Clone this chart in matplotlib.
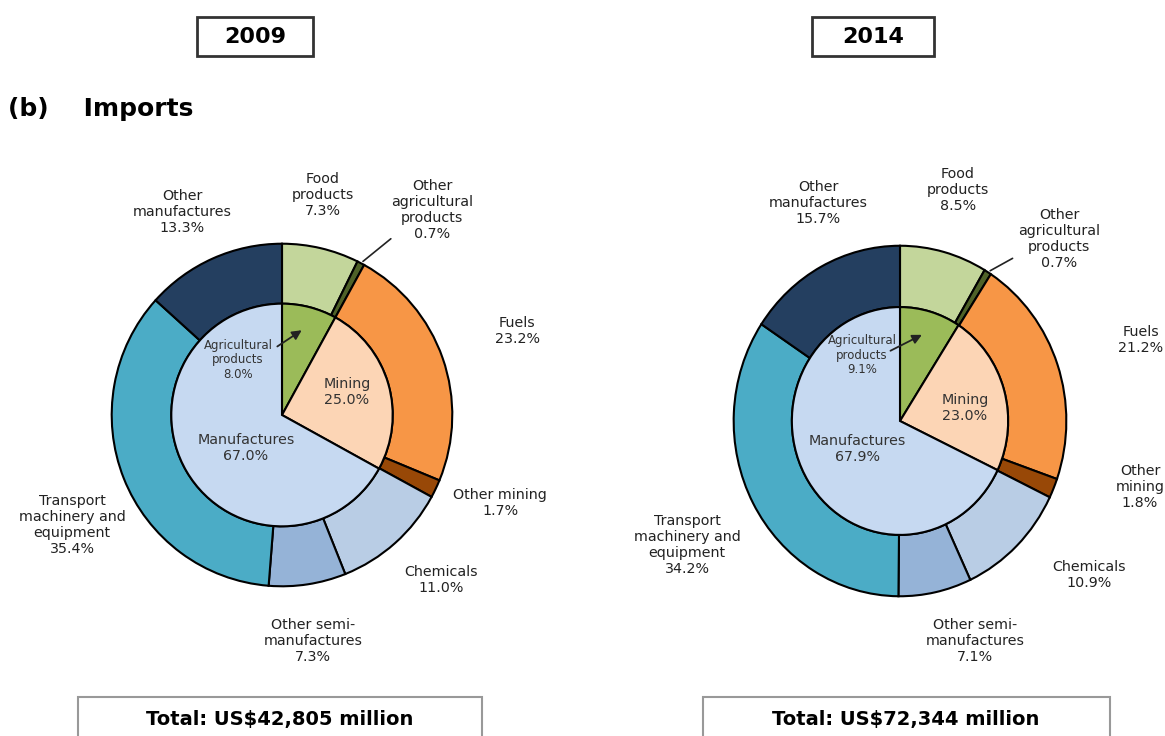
import matplotlib.pyplot as plt
from matplotlib.patches import Rectangle
import numpy as np

# data
years = ['2009', '2014']
totals = ['Total: US$42,805 million', 'Total: US$72,344 million']

inner_names = ['Agricultural\nproducts', 'Mining', 'Manufactures']
inner_2009 = [8.0, 25.0, 67.0]
inner_2014 = [9.1, 23.0, 67.9]

outer_names_2009 = ['Food\nproducts', 'Other\nagricultural\nproducts', 'Fuels', 'Other mining',
                    'Chemicals', 'Other semi-\nmanufactures', 'Transport\nmachinery and\nequipment',
                    'Other\nmanufactures']
outer_names_2014 = ['Food\nproducts', 'Other\nagricultural\nproducts', 'Fuels', 'Other\nmining',
                    'Chemicals', 'Other semi-\nmanufactures', 'Transport\nmachinery and\nequipment',
                    'Other\nmanufactures']
outer_2009 = [7.3, 0.7, 23.2, 1.7, 11.0, 7.3, 35.4, 13.3]
outer_2014 = [8.5, 0.7, 21.2, 1.8, 10.9, 7.1, 34.2, 15.7]

inner_colors = ['#9bbb59', '#fcd5b5', '#c6d9f1']
outer_colors = ['#c3d69b', '#4f6228', '#f79646', '#984807',
                '#b9cde5', '#95b3d7', '#4bacc6', '#243f60']

W, H = 1165, 736
fig = plt.figure(figsize=(W / 100, H / 100), dpi=100)
txtc = '#222222'


def fpos(x, y):
    return (x / W, 1 - y / H)


def box(x0, y0, x1, y1, ec, lw):
    fig.patches.append(Rectangle((x0 / W, 1 - y1 / H), (x1 - x0) / W, (y1 - y0) / H,
                                 transform=fig.transFigure, fill=False, ec=ec, lw=lw))


# layout for each panel: centre, radii, label pixel positions
panels = [
    dict(c=(282, 415), rx=172, ry=173,
         inner=inner_2009, outer=outer_2009, names=outer_names_2009,
         outer_pos=[(323, 195), (432, 210), (517, 331), (500, 503), (441, 580),
                    (313, 641), (72, 525), (182, 212)],
         lead=(393, 237),
         agri_pos=(238, 360), mining_pos=(347, 392), manu_pos=(246, 448),
         arrow_tail=(275, 348)),
    dict(c=(900, 421), rx=168, ry=177,
         inner=inner_2014, outer=outer_2014, names=outer_names_2014,
         outer_pos=[(958, 190), (1059, 239), (1141, 340), (1140, 487), (1089, 575),
                    (975, 641), (687, 545), (818, 203)],
         lead=(1015, 257),
         agri_pos=(862, 355), mining_pos=(965, 408), manu_pos=(857, 449),
         arrow_tail=(888, 352)),
]

ep = dict(edgecolor='black', linewidth=1.5)
for p in panels:
    cx, cy = p['c']
    ax = fig.add_axes([(cx - p['rx']) / W, 1 - (cy + p['ry']) / H, 2 * p['rx'] / W, 2 * p['ry'] / H])
    wo, _ = ax.pie(p['outer'], colors=outer_colors, startangle=90, counterclock=False,
                   radius=1.0, wedgeprops=dict(width=0.35, **ep))
    wi, _ = ax.pie(p['inner'], colors=inner_colors, startangle=90, counterclock=False,
                   radius=0.65, wedgeprops=ep)
    ax.set_aspect('auto')
    ax.set_xlim(-1.01, 1.01)
    ax.set_ylim(-1.01, 1.01)
    ax.axis('off')

    for name, v, (x, y) in zip(p['names'], p['outer'], p['outer_pos']):
        fig.text(*fpos(x, y), f'{name}\n{v:.1f}%', ha='center', va='center',
                 fontsize=10.3, color=txtc, linespacing=1.2)

    # leader line to the tiny "other agricultural" slice
    w = wo[1]
    a = np.deg2rad((w.theta1 + w.theta2) / 2)
    ax.annotate('', xy=(np.cos(a), np.sin(a)), xycoords='data',
                xytext=fpos(*p['lead']), textcoords='figure fraction',
                arrowprops=dict(arrowstyle='-', color='#222222', lw=1.2))

    fig.text(*fpos(*p['agri_pos']), f'{inner_names[0]}\n{p["inner"][0]:.1f}%',
             ha='center', va='center', fontsize=8.5, color='#333333', linespacing=1.15)
    w = wi[0]
    a = np.deg2rad((w.theta1 + w.theta2) / 2)
    ax.annotate('', xy=(0.52 * np.cos(a), 0.52 * np.sin(a)), xycoords='data',
                xytext=fpos(*p['arrow_tail']), textcoords='figure fraction',
                arrowprops=dict(arrowstyle='-|>', color='#222222', lw=1.3, mutation_scale=14))

    fig.text(*fpos(*p['mining_pos']), f'{inner_names[1]}\n{p["inner"][1]:.1f}%',
             ha='center', va='center', fontsize=10.3, color='#333333', linespacing=1.2)
    fig.text(*fpos(*p['manu_pos']), f'{inner_names[2]}\n{p["inner"][2]:.1f}%',
             ha='center', va='center', fontsize=10.3, color='#333333', linespacing=1.2)

# year boxes
box(197, 17, 313, 56, '#333333', 2)
box(812, 17, 934, 56, '#333333', 2)
fig.text(*fpos(255, 37), years[0], ha='center', va='center', fontsize=16, fontweight='bold')
fig.text(*fpos(873, 37), years[1], ha='center', va='center', fontsize=16, fontweight='bold')

fig.text(*fpos(8, 109), '(b)    Imports', ha='left', va='center', fontsize=18, fontweight='bold')

# total boxes
box(78, 697, 482, 745, '#999999', 1.5)
box(703, 697, 1110, 745, '#999999', 1.5)
fig.text(*fpos(280, 720), totals[0], ha='center', va='center', fontsize=14, fontweight='bold')
fig.text(*fpos(906, 720), totals[1], ha='center', va='center', fontsize=14, fontweight='bold')

fig.savefig('out.png', dpi=100)
